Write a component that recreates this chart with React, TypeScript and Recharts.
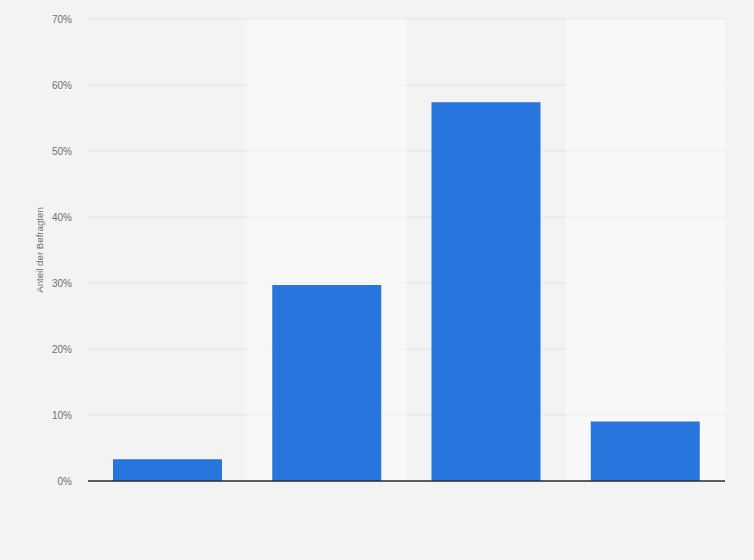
import { BarChart, Bar, XAxis, YAxis, CartesianGrid, ReferenceArea, Label } from "recharts";

// survey shares
const categories = ["A", "B", "C", "D"];
const shares = [3.3, 29.7, 57.4, 9.0];
const yTicks = [0, 10, 20, 30, 40, 50, 60, 70];
const bandCategories = ["B", "D"];

const data = categories.map((name, i) => ({ name, share: shares[i] }));

const font = "'Liberation Sans', Arial, sans-serif";

export default function App() {
  return (
    <div style={{ position: "fixed", top: 0, left: 0, width: 754, height: 560, background: "#f3f3f3" }}>
      <BarChart
        width={754}
        height={560}
        data={data}
        margin={{ top: 19, right: 29, left: 28, bottom: 78 }}
      >
        {bandCategories.map((c) => (
          <ReferenceArea key={c} x1={c} x2={c} y1={0} y2={70} fill="#ffffff" fillOpacity={0.45} stroke="none" ifOverflow="visible" />
        ))}
        <CartesianGrid vertical={false} stroke="#d4d4d4" strokeDasharray="1 1" />
        <XAxis dataKey="name" tick={false} tickLine={false} height={1} axisLine={{ stroke: "#2b2b2b", strokeWidth: 1.3 }} />
        <YAxis
          width={60}
          domain={[0, 70]}
          ticks={yTicks}
          tickFormatter={(v) => `${v}%`}
          axisLine={false}
          tickLine={false}
          tickSize={0}
          tickMargin={16}
          tick={{ fill: "#707070", fontSize: 10, fontFamily: font }}
        >
          <Label
            value="Anteil der Befragten"
            angle={-90}
            position="insideLeft"
            offset={12}
            style={{ fill: "#707070", fontSize: 9.7, fontFamily: font, textAnchor: "middle" }}
          />
        </YAxis>
        <Bar dataKey="share" fill="#2876dd" barSize={109} isAnimationActive={false} />
      </BarChart>
    </div>
  );
}
